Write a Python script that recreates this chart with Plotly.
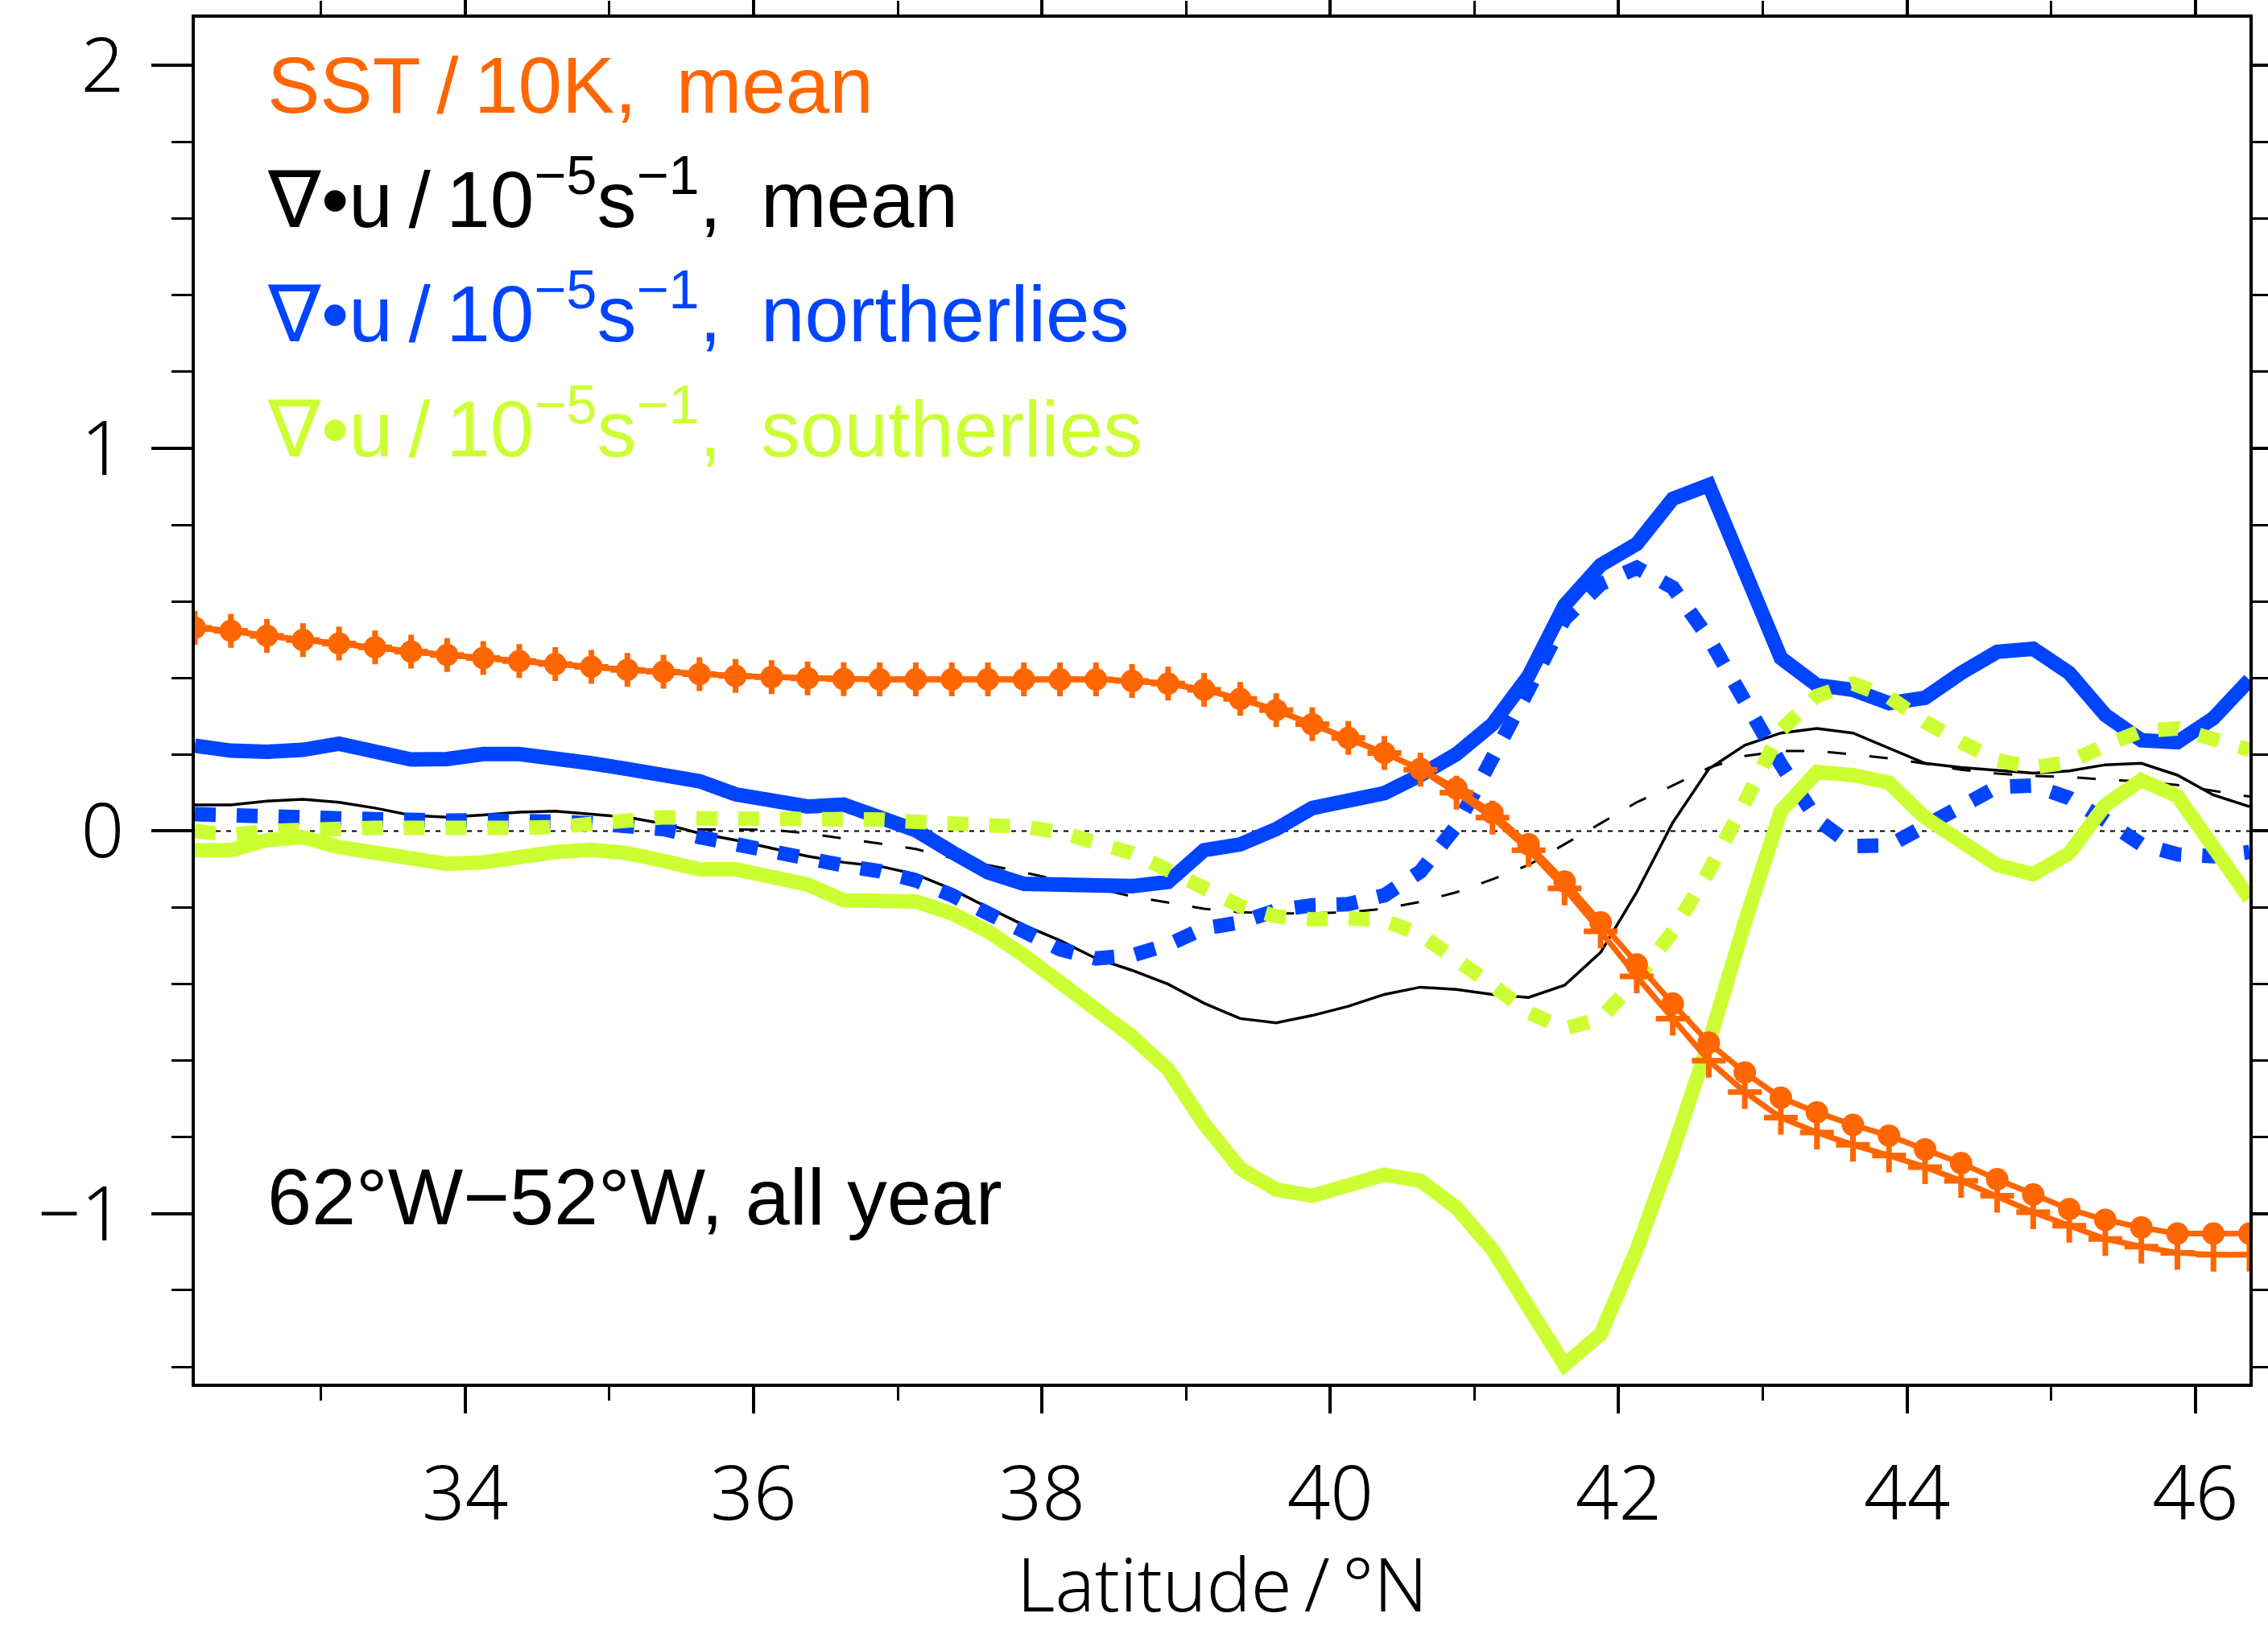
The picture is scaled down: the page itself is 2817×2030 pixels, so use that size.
import plotly.graph_objects as go

# Latitude grid: 0.25 degree spacing, 32.125N to 46.375N
lat_start = 32.125
lat_step = 0.25

sst_mean = [0.531, 0.523, 0.510, 0.499, 0.490, 0.480, 0.469, 0.460, 0.452, 0.444,
            0.436, 0.429, 0.421, 0.416, 0.410, 0.405, 0.402, 0.399, 0.397, 0.396,
            0.396, 0.396, 0.396, 0.396, 0.396, 0.396, 0.392, 0.385, 0.369, 0.345,
            0.316, 0.279, 0.243, 0.204, 0.162, 0.111, 0.047, -0.035, -0.132, -0.239,
            -0.349, -0.451, -0.553, -0.631, -0.697, -0.735, -0.768, -0.796, -0.832, -0.868,
            -0.910, -0.950, -0.988, -1.016, -1.036, -1.052, -1.052, -1.052]

sst_alt = [0.531, 0.523, 0.510, 0.499, 0.490, 0.480, 0.469, 0.460, 0.452, 0.444,
           0.436, 0.429, 0.421, 0.416, 0.410, 0.405, 0.402, 0.399, 0.397, 0.396,
           0.396, 0.396, 0.396, 0.396, 0.396, 0.396, 0.392, 0.385, 0.369, 0.345,
           0.316, 0.279, 0.243, 0.204, 0.160, 0.100, 0.035, -0.050, -0.150, -0.262,
           -0.380, -0.490, -0.600, -0.682, -0.749, -0.788, -0.820, -0.848, -0.878, -0.914,
           -0.953, -0.996, -1.031, -1.066, -1.086, -1.102, -1.107, -1.107]

div_mean = [0.068, 0.068, 0.078, 0.083, 0.075, 0.060, 0.041, 0.036, 0.042, 0.049,
            0.052, 0.044, 0.036, 0.019, -0.006, -0.024, -0.045, -0.066, -0.082, -0.092,
            -0.113, -0.152, -0.200, -0.246, -0.286, -0.333, -0.364, -0.400, -0.450, -0.490,
            -0.501, -0.482, -0.458, -0.427, -0.408, -0.414, -0.427, -0.435, -0.403, -0.317,
            -0.160, 0.022, 0.162, 0.224, 0.256, 0.268, 0.256, 0.217, 0.177, 0.166,
            0.159, 0.151, 0.157, 0.173, 0.177, 0.146, 0.094, 0.064]

div_mean_alt = [0.002, 0.004, 0.006, 0.008, 0.009, 0.008, 0.006, 0.005, 0.005, 0.006,
                0.006, 0.006, 0.005, 0.004, 0.004, 0.004, 0.003, -0.006, -0.019, -0.033,
                -0.047, -0.071, -0.089, -0.108, -0.129, -0.149, -0.171, -0.187, -0.203, -0.212,
                -0.215, -0.215, -0.212, -0.203, -0.185, -0.160, -0.126, -0.089, -0.035, 0.020,
                0.075, 0.119, 0.165, 0.196, 0.209, 0.209, 0.200, 0.190, 0.176, 0.160,
                0.150, 0.144, 0.141, 0.134, 0.130, 0.120, 0.105, 0.090]

div_north = [0.223, 0.210, 0.207, 0.212, 0.228, 0.209, 0.187, 0.188, 0.201, 0.201,
             0.193, 0.177, 0.162, 0.146, 0.130, 0.096, 0.083, 0.064, 0.069, 0.039,
             0.002, -0.055, -0.108, -0.138, -0.138, -0.140, -0.144, -0.133, -0.050, -0.035,
             0.005, 0.060, 0.075, 0.099, 0.146, 0.201, 0.279, 0.405, 0.590, 0.695,
             0.750, 0.868, 0.904, 0.687, 0.452, 0.381, 0.369, 0.334, 0.348, 0.413,
             0.468, 0.476, 0.413, 0.303, 0.237, 0.232, 0.295, 0.395]

div_north_alt = [0.044, 0.044, 0.041, 0.036, 0.033, 0.028, 0.025, 0.027, 0.028, 0.030,
                 0.024, 0.020, 0.014, 0.005, -0.016, -0.035, -0.055, -0.079, -0.090, -0.105,
                 -0.129, -0.168, -0.215, -0.270, -0.309, -0.333, -0.325, -0.297, -0.254, -0.239,
                 -0.207, -0.194, -0.191, -0.168, -0.106, 0.013, 0.185, 0.370, 0.554, 0.645,
                 0.688, 0.636, 0.504, 0.334, 0.174, 0.030, -0.039, -0.038, 0.012, 0.071,
                 0.115, 0.119, 0.086, 0.028, -0.035, -0.061, -0.066, -0.055]

div_south = [-0.050, -0.050, -0.024, -0.016, -0.042, -0.058, -0.078, -0.086, -0.082, -0.066,
             -0.055, -0.049, -0.058, -0.078, -0.100, -0.100, -0.121, -0.140, -0.181, -0.184,
             -0.184, -0.215, -0.262, -0.325, -0.396, -0.474, -0.537, -0.623, -0.765, -0.882,
             -0.937, -0.953, -0.929, -0.898, -0.914, -0.984, -1.094, -1.251, -1.395, -1.314,
             -1.094, -0.835, -0.553, -0.239, 0.052, 0.154, 0.146, 0.126, 0.035, -0.027,
             -0.089, -0.113, -0.058, 0.068, 0.133, 0.091, -0.042, -0.176]

div_south_alt = [0.000, -0.010, 0.000, 0.005, 0.005, 0.008, 0.008, 0.005, 0.005, 0.008,
                 0.010, 0.020, 0.033, 0.036, 0.033, 0.033, 0.033, 0.036, 0.036, 0.030,
                 0.024, 0.020, 0.017, 0.011, -0.003, -0.027, -0.058, -0.102, -0.144, -0.196,
                 -0.223, -0.231, -0.228, -0.234, -0.270, -0.333, -0.403, -0.474, -0.516, -0.490,
                 -0.388, -0.262, -0.105, 0.075, 0.264, 0.353, 0.385, 0.350, 0.285, 0.232,
                 0.185, 0.166, 0.180, 0.224, 0.261, 0.268, 0.243, 0.212]

lat = [lat_start + lat_step * i for i in range(len(sst_mean))]

x_ticks = [34, 36, 38, 40, 42, 44, 46]
x_minor = [33, 35, 37, 39, 41, 43, 45]
y_ticks = [-1, 0, 1, 2]
y_tick_text = ["\u22121", "0", "1", "2"]
y_minor = [-1.4, -1.2, -0.8, -0.6, -0.4, -0.2, 0.2, 0.4, 0.6, 0.8, 1.2, 1.4, 1.6, 1.8]

DIV = "\u2207\u2022u\u2009/\u200910<sup>\u22125</sup>s<sup>\u22121</sup>,\u2002"
legend_lines = [
    ("SST\u2009/\u200910K,\u2002mean", "#ff6600"),
    (DIV + "mean", "#000000"),
    (DIV + "northerlies", "#0044ff"),
    (DIV + "southerlies", "#ccff33"),
]
region_label = "62\u00b0W\u221252\u00b0W, all year"
x_title = "Latitude\u2009/\u2009\u00b0N"

ORANGE = "#ff6600"
BLUE = "#0044ff"
GREEN = "#ccff33"

W, H = 2817, 2030
ML, MR, MT, MB = 242, 23, 22, 311
plot_h = H - MT - MB

fig = go.Figure()

fig.add_trace(go.Scatter(x=lat, y=div_mean_alt, mode="lines",
                         line=dict(color="black", width=3, dash="23px,29px")))
fig.add_trace(go.Scatter(x=lat, y=div_mean, mode="lines",
                         line=dict(color="black", width=3.5)))
fig.add_trace(go.Scatter(x=lat, y=div_north, mode="lines",
                         line=dict(color=BLUE, width=18)))
fig.add_trace(go.Scatter(x=lat, y=div_north_alt, mode="lines",
                         line=dict(color=BLUE, width=18, dash="26px,26px")))
fig.add_trace(go.Scatter(x=lat, y=div_south, mode="lines",
                         line=dict(color=GREEN, width=18)))
fig.add_trace(go.Scatter(x=lat, y=div_south_alt, mode="lines",
                         line=dict(color=GREEN, width=18, dash="26px,26px")))
fig.add_trace(go.Scatter(x=lat, y=sst_alt, mode="lines+markers",
                         line=dict(color=ORANGE, width=7),
                         marker=dict(symbol="cross-thin", size=30,
                                     line=dict(color=ORANGE, width=7))))
fig.add_trace(go.Scatter(x=lat, y=sst_mean, mode="lines+markers",
                         line=dict(color=ORANGE, width=7),
                         marker=dict(symbol="circle", size=28, color=ORANGE)))

# zero reference line
fig.add_shape(type="line", xref="paper", yref="y", x0=0, x1=1, y0=0, y1=0,
              line=dict(color="black", width=2, dash="6px,7px"), layer="below")

tick_font = dict(family="Noto Sans", size=94, color="black", weight=300)
title_font = dict(family="Noto Sans", size=92, color="black", weight=300)

fig.update_xaxes(range=[32.125, 46.375], tickmode="array", tickvals=x_ticks,
                 ticks="outside", ticklen=33, tickwidth=4, tickcolor="black",
                 showline=True, linewidth=4, linecolor="black", mirror="ticks",
                 showgrid=False, zeroline=False, tickfont=tick_font,
                 ticklabelstandoff=19, automargin=False,
                 minor=dict(tickmode="array", tickvals=x_minor,
                            ticks="outside", ticklen=17, tickwidth=3, tickcolor="black",
                            showgrid=False))
fig.update_yaxes(range=[-1.444, 2.125], tickmode="array", tickvals=y_ticks,
                 ticktext=y_tick_text,
                 ticks="outside", ticklen=50, tickwidth=4, tickcolor="black",
                 showline=True, linewidth=4, linecolor="black", mirror="ticks",
                 showgrid=False, zeroline=False, tickfont=tick_font,
                 ticklabelstandoff=15, automargin=False,
                 minor=dict(tickmode="array", tickvals=y_minor,
                            ticks="outside", ticklen=25, tickwidth=3, tickcolor="black",
                            showgrid=False))


def py(px_from_top):
    return (H - MB - px_from_top) / plot_h


def px_x(px):
    return (px - ML) / (W - ML - MR)


baselines = [142, 284, 426, 569]
for (txt, col), base in zip(legend_lines, baselines):
    fig.add_annotation(text=txt, xref="paper", yref="paper", x=px_x(330), y=py(base + 21),
                       xanchor="left", yanchor="bottom", showarrow=False,
                       font=dict(family="Liberation Sans", size=98, color=col))

fig.add_annotation(text=region_label, xref="paper", yref="paper", x=px_x(330), y=py(1523 + 21),
                   xanchor="left", yanchor="bottom", showarrow=False,
                   font=dict(family="Liberation Sans", size=99, color="black"))

fig.add_annotation(text=x_title, xref="paper", yref="paper", x=0.5, y=py(1902),
                   xanchor="center", yanchor="top", showarrow=False,
                   font=title_font)

fig.update_layout(width=W, height=H, autosize=False,
                  margin=dict(l=ML, r=MR, t=MT, b=MB, pad=0, autoexpand=False),
                  paper_bgcolor="white", plot_bgcolor="white",
                  showlegend=False)

fig.write_html("out.html")
